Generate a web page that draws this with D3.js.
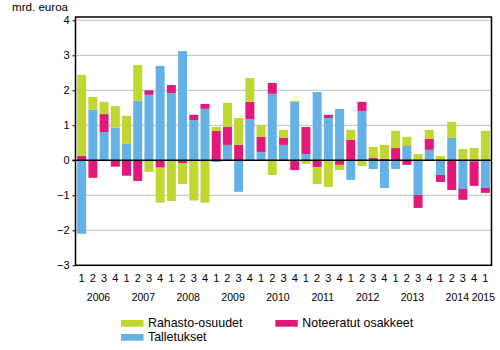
<!DOCTYPE html>
<html><head><meta charset="utf-8">
<script src="https://cdn.jsdelivr.net/npm/d3@7"></script>
<style>body{margin:0;background:#fff}svg{display:block;font-family:"Liberation Sans",Arial,sans-serif}</style>
</head><body><svg id="c" width="500" height="350"></svg>
<script>
const years = ["2006","2007","2008","2009","2010","2011","2012","2013","2014","2015"];
const quarters = ["1","2","3","4","1","2","3","4","1","2","3","4","1","2","3","4","1","2","3","4","1","2","3","4","1","2","3","4","1","2","3","4","1","2","3","4","1"];
const talletukset = [-2.10,1.45,0.81,0.93,0.47,1.70,1.87,2.70,1.92,3.12,1.15,1.47,-0.05,0.44,-0.90,1.18,0.24,1.90,0.44,1.67,0.18,1.95,1.21,1.47,-0.56,1.41,-0.25,-0.79,-0.25,0.41,-0.99,0.30,-0.42,0.64,-0.82,-0.03,-0.79];
const noteeratut = [0.13,-0.50,0.51,-0.18,-0.44,-0.59,0.13,-0.21,0.23,-0.08,0.15,0.14,0.84,0.51,0.44,0.49,0.43,0.31,0.20,-0.28,0.77,-0.19,0.09,-0.13,0.58,0.26,0.07,0.04,0.35,-0.13,-0.37,0.31,-0.20,-0.85,-0.31,-0.70,-0.14];
const rahasto = [2.31,0.36,0.35,0.62,0.80,1.02,-0.33,-1.00,-1.16,-0.60,-1.15,-1.21,0.11,0.69,0.77,0.68,0.34,-0.42,0.23,0.03,-0.10,-0.49,-0.76,-0.15,0.29,-0.16,0.31,0.40,0.49,0.26,0.18,0.26,0.12,0.46,0.32,0.35,0.84];
const yTicks = [-3,-2,-1,0,1,2,3,4];
const seriesNames = ["Rahasto-osuudet","Noteeratut osakkeet","Talletukset"];
const colors = {"Rahasto-osuudet":"#bfd730","Noteeratut osakkeet":"#e2187a","Talletukset":"#63b1e5"};

const svg = d3.select("#c");
const L = 75.5, R = 491.5, T = 17, B = 265.3;
const ids = quarters.map((q,i)=>i);
const rows = ids.map(i=>({i, "Talletukset":talletukset[i], "Noteeratut osakkeet":noteeratut[i], "Rahasto-osuudet":rahasto[i]}));
const x = d3.scaleBand().domain(ids).range([L,R]).paddingInner(0.2).paddingOuter(0.15);
const y = d3.scaleLinear().domain([-3,4]).range([B,20.3]);

// gridlines
svg.append("g").selectAll("line").data(yTicks.filter(t=>t!==0 && t!==-3)).join("line")
  .attr("x1",L).attr("x2",R).attr("y1",d=>y(d)).attr("y2",d=>y(d))
  .attr("stroke","#c0c0c0").attr("stroke-width",1);

const stack = d3.stack().keys(["Talletukset","Noteeratut osakkeet","Rahasto-osuudet"]).offset(d3.stackOffsetDiverging);
const layers = stack(rows);
svg.append("g").selectAll("g").data(layers).join("g").attr("fill",d=>colors[d.key])
  .selectAll("rect").data(d=>d).join("rect")
  .attr("x",d=>x(d.data.i)).attr("width",x.bandwidth())
  .attr("y",d=>y(Math.max(d[0],d[1]))).attr("height",d=>Math.abs(y(d[0])-y(d[1])));

// zero line
svg.append("line").attr("x1",L-3).attr("x2",R).attr("y1",y(0)).attr("y2",y(0)).attr("stroke","#000").attr("stroke-width",1.5);
// frame
svg.append("rect").attr("x",L).attr("y",T).attr("width",R-L).attr("height",B-T).attr("fill","none").attr("stroke","#000").attr("stroke-width",1.5);

// y axis
const yAxis = d3.axisLeft(y).tickValues(yTicks).tickSize(3).tickPadding(3).tickFormat(d3.format("d"));
const ga = svg.append("g").attr("transform",`translate(${L},0)`).call(yAxis);
ga.select(".domain").remove();
ga.selectAll("line").attr("stroke","#000");
ga.selectAll("text").attr("font-size",11).attr("fill","#000").attr("font-family","Liberation Sans, Arial, sans-serif");

// x labels
svg.append("g").selectAll("text").data(ids).join("text")
  .attr("x",d=>x(d)+x.bandwidth()/2).attr("y",282).attr("text-anchor","middle")
  .attr("font-size",11).text(d=>quarters[d]);
svg.append("g").selectAll("text").data(years).join("text")
  .attr("x",(d,k)=>{ if(k===years.length-1) return x(36)+x.bandwidth()/2-2; return (x(k*4)+x(k*4+3)+x.bandwidth())/2;})
  .attr("y",300.5).attr("text-anchor","middle").attr("font-size",10.5).text(d=>d);

svg.append("text").attr("x",12).attr("y",11).attr("font-size",11.6).text("mrd. euroa");

// legend
const leg = [{n:"Rahasto-osuudet",x:121,y:320},{n:"Noteeratut osakkeet",x:275.3,y:320},{n:"Talletukset",x:121,y:334}];
const lg = svg.append("g").selectAll("g").data(leg).join("g");
lg.append("rect").attr("x",d=>d.x).attr("y",d=>d.y).attr("width",22.5).attr("height",6.7).attr("fill",d=>colors[d.n]);
lg.append("text").attr("x",d=>d.x+27).attr("y",d=>d.y+7).attr("font-size",12.4).text(d=>d.n);
</script></body></html>
